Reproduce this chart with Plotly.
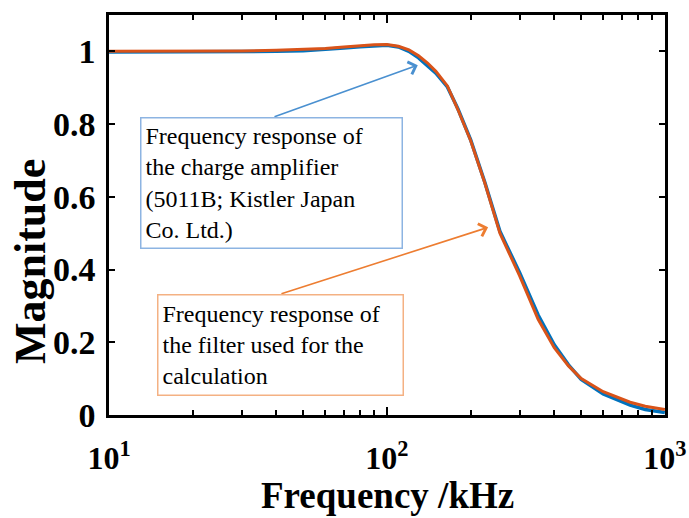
import plotly.graph_objects as go

# Frequency (kHz)
freq_filter = [10, 15, 20, 30, 40, 50, 60, 70, 80, 90, 100, 110, 120, 130, 140, 150,
               165, 180, 200, 225, 255, 300, 350, 400, 450, 500, 600, 750, 850, 1000]
mag_filter = [1.0, 1.0, 1.0, 1.001, 1.003, 1.005, 1.008, 1.012, 1.016, 1.018, 1.019,
              1.014, 1.004, 0.988, 0.968, 0.945, 0.905, 0.84, 0.755, 0.638, 0.50, 0.383,
              0.263, 0.185, 0.135, 0.10, 0.064, 0.035, 0.024, 0.015]

freq_amp = [10, 15, 20, 30, 40, 50, 60, 70, 80, 90, 100, 110, 120, 130, 140, 150,
            165, 180, 200, 225, 255, 300, 350, 400, 450, 500, 600, 750, 850, 1000]
mag_amp = [0.998, 0.998, 0.999, 0.999, 1.0, 1.002, 1.005, 1.009, 1.013, 1.016, 1.017,
           1.012, 1.0, 0.982, 0.960, 0.940, 0.902, 0.842, 0.757, 0.640, 0.505, 0.392,
           0.275, 0.193, 0.138, 0.098, 0.058, 0.027, 0.015, 0.007]

x_tickvals = [10, 100, 1000]
x_ticktext = ["10<sup>1</sup>", "10<sup>2</sup>", "10<sup>3</sup>"]
y_tickvals = [0, 0.2, 0.4, 0.6, 0.8, 1]
y_ticktext = ["0", "0.2", "0.4", "0.6", "0.8", "1"]

label_amp = "Frequency response of<br>the charge amplifier<br>(5011B; Kistler Japan<br>Co. Ltd.)"
label_filter = "Frequency response of<br>the filter used for the<br>calculation"

BLUE = "#0072BD"
ORANGE = "#D95319"
SERIF = "Liberation Serif"

fig = go.Figure()
fig.add_trace(go.Scatter(x=freq_amp, y=mag_amp, mode="lines",
                         line=dict(color=BLUE, width=3.5), showlegend=False))
fig.add_trace(go.Scatter(x=freq_filter, y=mag_filter, mode="lines",
                         line=dict(color=ORANGE, width=3), showlegend=False))

axis_common = dict(showline=True, linecolor="black", linewidth=2.5, mirror="ticks",
                   ticks="inside", tickcolor="black", tickwidth=2, showgrid=False,
                   zeroline=False, automargin=False)

fig.update_xaxes(type="log", range=[1, 3.0005], tickvals=x_tickvals, ticktext=x_ticktext,
                 ticklen=8, ticklabelstandoff=13,
                 tickfont=dict(family=SERIF, size=32, color="black", weight="bold"),
                 minor=dict(ticks="inside", ticklen=5, tickwidth=2, tickcolor="black",
                            dtick="D1", showgrid=False),
                 **axis_common)
fig.update_yaxes(range=[0, 1.1], tickvals=y_tickvals, ticktext=y_ticktext,
                 ticklen=6, ticklabelstandoff=4,
                 tickfont=dict(family=SERIF, size=34, color="black", weight="bold"),
                 **axis_common)

# axis titles
fig.add_annotation(x=0.5, y=-0.2, xref="paper", yref="paper", xanchor="center",
                   yanchor="middle", text="Frequency /kHz", showarrow=False,
                   font=dict(family=SERIF, size=37, color="black", weight="bold"))
fig.add_annotation(x=-0.142, y=0.3825, xref="paper", yref="paper", xanchor="center",
                   yanchor="middle", text="Magnitude", textangle=-90, showarrow=False,
                   font=dict(family=SERIF, size=44, color="black", weight="bold"))

# arrows (head at curve, tail at box edge), coordinates in data space (log10 for x)
fig.add_annotation(x=2.111, y=0.962, ax=1.590, ay=0.819, axref="x", ayref="y",
                   xref="x", yref="y", text="", showarrow=True, arrowhead=4,
                   arrowsize=1.6, arrowwidth=1.6, arrowcolor="#4A90D0")
fig.add_annotation(x=2.364, y=0.516, ax=1.615, ay=0.332, axref="x", ayref="y",
                   xref="x", yref="y", text="", showarrow=True, arrowhead=4,
                   arrowsize=1.6, arrowwidth=1.6, arrowcolor="#ED7D31")

# boxed labels
fig.add_annotation(x=1.1115, y=0.819, xref="x", yref="y", xanchor="left", yanchor="top",
                   text=label_amp, showarrow=False, align="left", valign="middle",
                   width=252, height=121, borderpad=4, bordercolor="#8DB4E2",
                   borderwidth=1.5, bgcolor="white",
                   font=dict(family=SERIF, size=24, color="black"))
fig.add_annotation(x=1.1727, y=0.332, xref="x", yref="y", xanchor="left", yanchor="top",
                   text=label_filter, showarrow=False, align="left", valign="middle",
                   width=236, height=91, borderpad=4, bordercolor="#F4B183",
                   borderwidth=1.5, bgcolor="white",
                   font=dict(family=SERIF, size=24, color="black"))

fig.update_layout(width=689, height=518, margin=dict(l=109, r=24, t=15, b=103),
                  plot_bgcolor="white", paper_bgcolor="white")

fig.write_html("out.html")
